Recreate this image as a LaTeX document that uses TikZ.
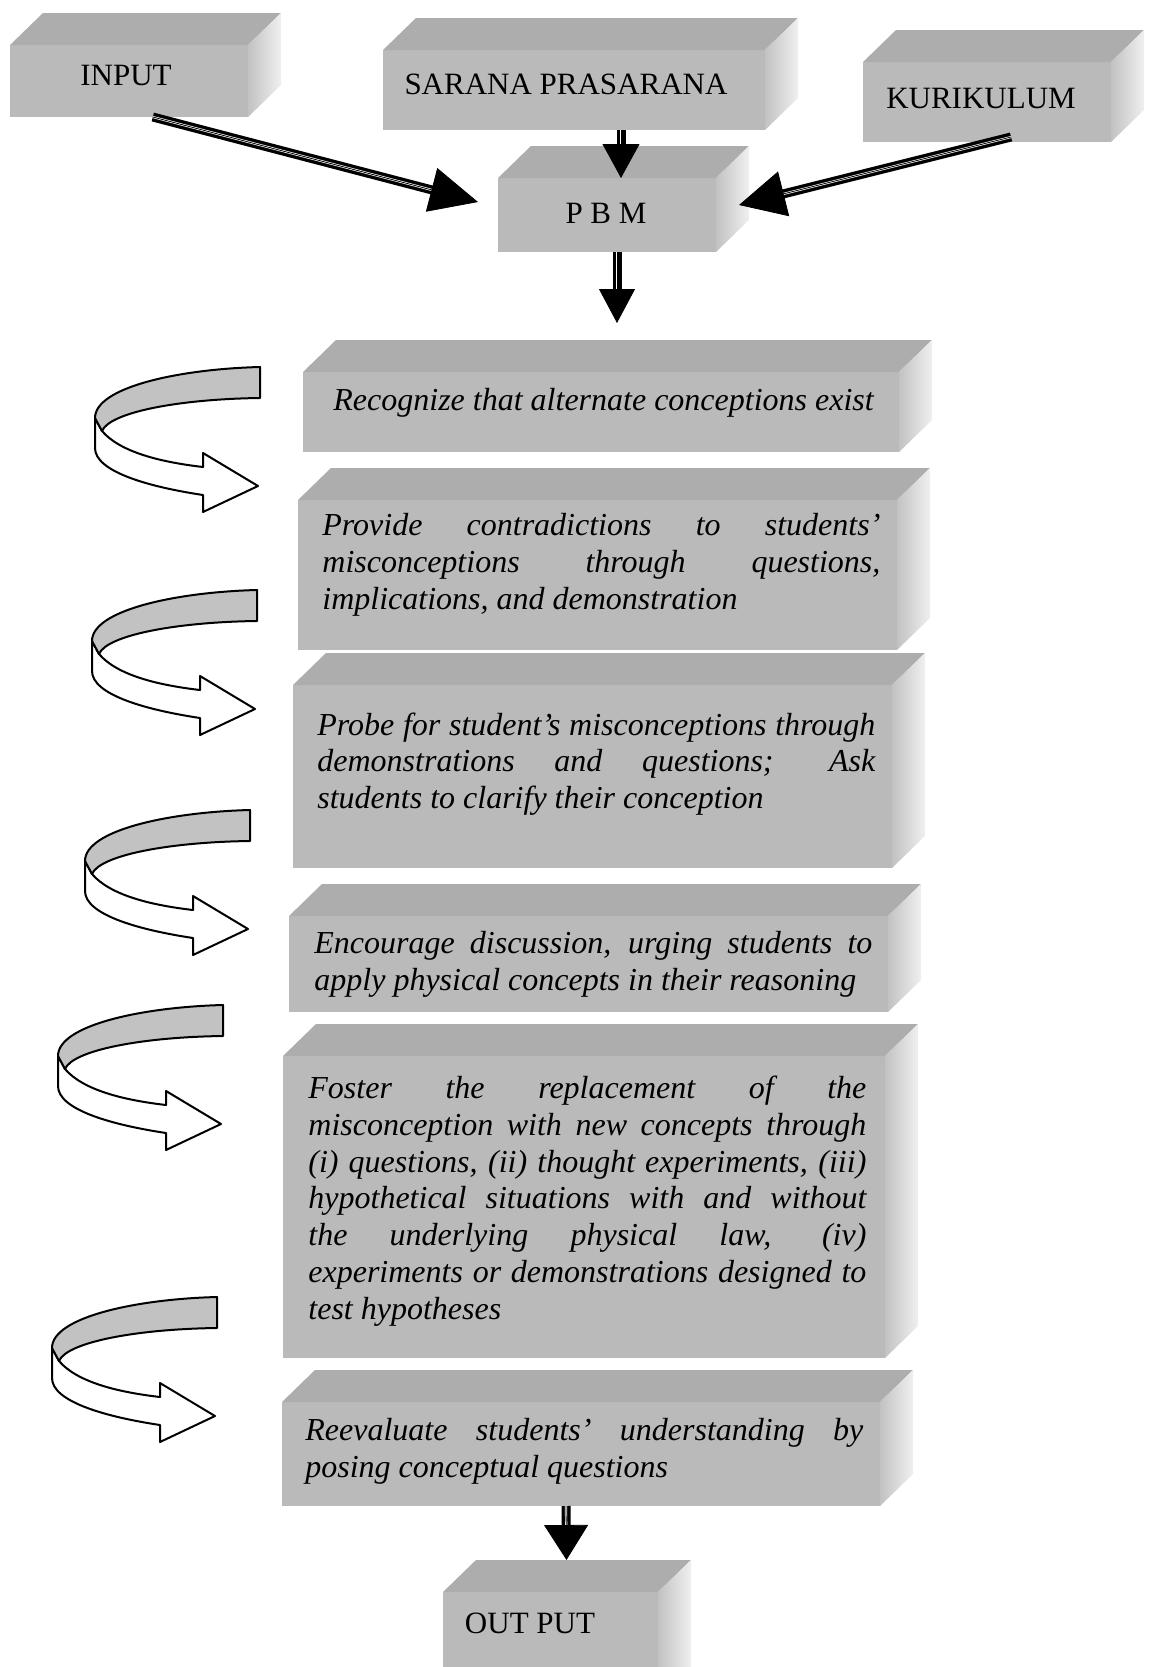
\documentclass[tikz,border=0pt]{standalone}
\usepackage{fontspec}
\setmainfont{Liberation Serif}
\usetikzlibrary{calc,arrows.meta}

\tikzset{
  frontface/.style={fill=black!27, draw=none, inner sep=0pt, outer sep=0pt, rectangle},
  topface/.style={fill=black!32},
  sideface/.style={left color=black!24, right color=black!6},
  hdr/.style={font=\fontsize{15.5pt}{18pt}\selectfont, inner sep=0pt},
  steptext/.style={font=\fontsize{16pt}{18.4pt}\selectfont\itshape, inner sep=0pt, align=left, anchor=west},
  shaft/.style={draw=black, line width=1.7pt, double=white, double distance=1.1pt},
  ribline/.style={draw=black, line width=1pt, line join=round},
  ribbon/.pic={
    \filldraw[ribline, fill=white] (-165,51) -- (-165,81)
      .. controls (-165,105) and (-110,120) .. (-57,128) -- (-57,145) -- (-2,119)
      -- (-57,86) -- (-57,100) .. controls (-100,95) and (-140,85) .. (-158,64) -- cycle;
    \filldraw[ribline, fill=black!24] (0,0) .. controls (-80,2) and (-165,20) .. (-165,51)
      -- (-158,64) .. controls (-150,45) and (-80,32) .. (0,31) -- cycle;
  }
}

% name, L, T (back top), R, B
\newcommand{\cuboid}[5]{%
  \pgfmathsetmacro{\cubw}{(#4-#2)*0.5}%
  \pgfmathsetmacro{\cubh}{(#5-#3-32)*0.5}%
  \node[frontface, minimum width=\cubw pt, minimum height=\cubh pt, anchor=north west] (#1) at (#2,#3+32) {};
  \fill[topface] (#1.north west) -- ++(33,-32) -- ($(#1.north east)+(33,-32)$) -- (#1.north east) -- cycle;
  \shade[sideface] (#1.north east) -- ++(33,-32) -- ($(#1.south east)+(33,-32)$) -- (#1.south east) -- cycle;
}
\newcommand{\jl}[1]{\makebox[279pt][s]{#1}\\}

\begin{document}
\begin{tikzpicture}[x=0.5pt, y=-0.5pt]
\useasboundingbox (0,0) rectangle (1148,1667);
\fill[white] (0,0) rectangle (1148,1667);
\clip (0,0) rectangle (1148,1667);

% header boxes
\cuboid{input}{10}{13}{248}{117}
\cuboid{sarana}{383}{18}{765}{130}
\cuboid{kuri}{863}{30}{1111}{142}
\cuboid{pbm}{498}{146}{716}{252}

% step boxes
\cuboid{b1}{303}{340}{899}{452}
\cuboid{b2}{298}{468}{897}{650}
\cuboid{b3}{293}{653}{892}{868}
\cuboid{b4}{289}{884}{888}{1012}
\cuboid{b5}{283}{1024}{885}{1358}
\cuboid{b6}{282}{1370}{880}{1506}
\cuboid{output}{443}{1560}{658}{1700}

% header labels
\node[hdr] (tinput) at (126,75) {INPUT};
\node[hdr] (tsarana) at (566,84) {SARANA PRASARANA};
\node[hdr] (tkuri) at (981,98) {KURIKULUM};
\node[hdr] (tpbm) at (606,213) {P B M};
\node[hdr] (toutput) at (530,1623) {OUT PUT};

% step texts
\node[steptext] (t1) at (333,403) {Recognize that alternate conceptions exist};
\node[steptext] (t2) at (322,565) {\jl{Provide contradictions to students'}\jl{misconceptions through questions,}implications, and demonstration};
\node[steptext] (t3) at (317,764) {\jl{Probe for student's misconceptions through}\jl{demonstrations and questions; Ask}students to clarify their conception};
\node[steptext] (t4) at (314,964) {\jl{Encourage discussion, urging students to}apply physical concepts in their reasoning};
\node[steptext] (t5) at (308,1201) {\jl{Foster the replacement of the}\jl{misconception with new concepts through}\jl{(i) questions, (ii) thought experiments, (iii)}\jl{hypothetical situations with and without}\jl{the underlying physical law, (iv)}\jl{experiments or demonstrations designed to}test hypotheses};
\node[steptext] (t6) at (305,1451) {\jl{Reevaluate students' understanding by}posing conceptual questions};

% block arrows
\draw[shaft, shorten >=20pt] ($(input.south west)!0.6!(input.south east)$) -- ($(pbm.west)+(-20,-13)$);
\draw[-{Triangle[length=24pt,width=22.5pt]}, line width=0.4pt] ($(input.south west)!0.6!(input.south east)$) -- ($(pbm.west)+(-20,-13)$);

\draw[shaft, shorten >=15pt] ($(sarana.south)+(47,0)$) -- ($(pbm.north)+(14,0)$);
\draw[-{Triangle[length=17pt,width=18.5pt]}, line width=0.4pt] ($(sarana.south)+(47,0)$) -- ($(pbm.north)+(14,0)$);

\draw[shaft, shorten >=20pt] ($(kuri.south)+(24,-5)$) -- ($(pbm.east)+(23,-10)$);
\draw[-{Triangle[length=23pt,width=23pt]}, line width=0.4pt] ($(kuri.south)+(24,-5)$) -- ($(pbm.east)+(23,-10)$);

\draw[shaft, shorten >=15pt] ($(pbm.south)+(10,0)$) -- ($(b1.north)+(16,-49)$);
\draw[-{Triangle[length=17pt,width=18pt]}, line width=0.4pt] ($(pbm.south)+(10,0)$) -- ($(b1.north)+(16,-49)$);

\draw[shaft, shorten >=15pt] ($(b6.south)+(-15,0)$) -- ($(output.north)+(16,-32)$);
\draw[-{Triangle[length=17.5pt,width=22pt]}, line width=0.4pt] ($(b6.south)+(-15,0)$) -- ($(output.north)+(16,-32)$);

% ribbon arrows
\pic at (260,367) {ribbon};
\pic at (257,590) {ribbon};
\pic at (250,810) {ribbon};
\pic at (223,1005) {ribbon};
\pic at (217,1297) {ribbon};
\end{tikzpicture}
\end{document}
